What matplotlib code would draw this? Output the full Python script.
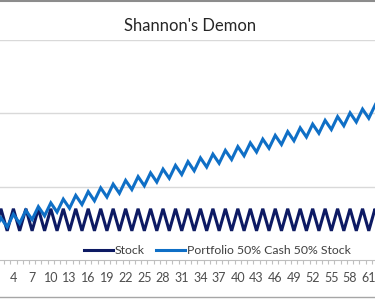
import numpy as np
import matplotlib
matplotlib.use('Agg')
import matplotlib.pyplot as plt
from matplotlib.lines import Line2D
from matplotlib.ticker import FixedLocator, NullFormatter

plt.rcParams['font.family'] = ['Lato', 'DejaVu Sans']

# Period number (category axis)
periods = list(range(1, 65))

# Stock alternates between halving and doubling
stock = [2.5, 5.0] * 32

# Portfolio 50% cash / 50% stock, rebalanced each period
portfolio = [2.5, 3.75, 2.8125, 4.21875, 3.1641, 4.7461, 3.5596, 5.3394,
             4.0045, 6.0068, 4.5051, 6.7577, 5.0683, 7.6024, 5.7018, 8.5527,
             6.4145, 9.6218, 7.2164, 10.825, 8.1184, 12.178, 9.1332, 13.700,
             10.275, 15.412, 11.559, 17.339, 13.004, 19.506, 14.630, 21.945,
             16.459, 24.688, 18.516, 27.774, 20.830, 31.246, 23.434, 35.151,
             26.364, 39.545, 29.659, 44.489, 33.367, 50.050, 37.538, 56.307,
             42.230, 63.345, 47.509, 71.263, 53.447, 80.171, 60.128, 90.192,
             67.644, 101.47, 76.100, 114.15, 85.612, 128.42, 96.314, 144.47]

series_names = ['Stock', 'Portfolio 50% Cash 50% Stock']
# labels every third period; 1 and 64 fall outside the visible crop
tick_periods = list(range(4, 62, 3))

fig = plt.figure(figsize=(3.75, 3.01), dpi=100)
ax = fig.add_axes([0, 1 - 260 / 301, 1, 220 / 301])

ax.plot(periods, stock, color='#0d1a63', lw=2.2, label=series_names[0], solid_joinstyle='miter')
ax.plot(periods, portfolio, color='#0f6fc6', lw=2.2, label=series_names[1], solid_joinstyle='miter')

ax.set_yscale('log')
ax.yaxis.set_major_locator(FixedLocator([10, 100, 1000]))
ax.yaxis.set_minor_locator(FixedLocator([]))
ax.yaxis.set_major_formatter(NullFormatter())
ax.tick_params(axis='y', length=0)
ax.grid(axis='y', color='#d9d9d9', lw=1)

ax.set_xticks(tick_periods)
ax.set_xticklabels([str(p) for p in tick_periods])
ax.set_xticks([p + 0.5 for p in periods], minor=True)
ax.tick_params(axis='x', which='major', length=0, pad=9, labelsize=9, labelcolor='#4d4d4d')
ax.tick_params(axis='x', which='minor', length=3, color='#bfbfbf', width=0.8)

ax.set_ylim(1, 1000)
ax.set_xlim(1.85, 62.0)

for s in ['left', 'right', 'top']:
    ax.spines[s].set_visible(False)
ax.spines['bottom'].set_color('#bfbfbf')

fig.text(0.508, 1 - 26 / 301, "Shannon's Demon", ha='center', va='center',
         fontsize=12, color='#262626')

leg = fig.legend(loc='center', bbox_to_anchor=(0.58, 1 - 251 / 301), ncol=2,
                 frameon=False, fontsize=8.8, handlelength=2.4, columnspacing=0.9,
                 handletextpad=0.15)
for t in leg.get_texts():
    t.set_color('#404040')

# chart border (cropped)
fig.add_artist(Line2D([0, 1], [0.997, 0.997], color='#8c8c8c', lw=1.5))
fig.add_artist(Line2D([0, 1], [1 - 297 / 301, 1 - 297 / 301], color='#a6a6a6', lw=1))

fig.savefig('out.png', dpi=100)
